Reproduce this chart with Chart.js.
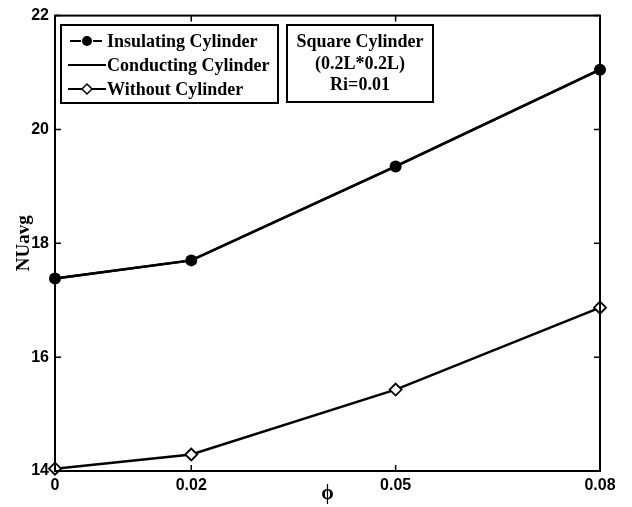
<!DOCTYPE html>
<html>
<head>
<meta charset="utf-8">
<script src="https://cdn.jsdelivr.net/npm/chart.js@4/dist/chart.umd.min.js"></script>
<style>
    html, body { margin: 0; padding: 0; background: #fff; }
    #wrap { width: 632px; height: 507px; position: relative; }
</style>
</head>
<body>
<div id="wrap"><canvas id="nuChart"></canvas></div>
<script>
// volume fraction and average Nusselt number
const phiValues = [0, 0.02, 0.05, 0.08];
const insulatingNu = [17.38, 17.70, 19.35, 21.05];
const conductingNu = [17.38, 17.70, 19.35, 21.05];
const withoutNu = [14.04, 14.29, 15.43, 16.87];
const xTicks = [0, 0.02, 0.05, 0.08];
const yTicks = [14, 16, 18, 20, 22];
const noteLines = ['Square Cylinder', '(0.2L*0.2L)', 'Ri=0.01'];

const serif = '"Liberation Serif", "DejaVu Serif", serif';
const sans = '"Liberation Sans", Arial, sans-serif';

function toPoints(values) {
    return phiValues.map(function(p, i) { return { x: p, y: values[i] }; });
}

// frame, inward ticks, legend box and note box
const framePlugin = {
    id: 'frame',
    afterDraw: function(chart) {
        const ctx = chart.ctx;
        const area = chart.chartArea;
        const xs = chart.scales.x;
        const ys = chart.scales.y;
        ctx.save();
        ctx.strokeStyle = '#000';
        ctx.lineWidth = 2;
        ctx.strokeRect(area.left, area.top, area.right - area.left, area.bottom - area.top);

        ctx.lineWidth = 1.5;
        ctx.beginPath();
        xTicks.forEach(function(t) {
            const px = xs.getPixelForValue(t);
            ctx.moveTo(px, area.bottom); ctx.lineTo(px, area.bottom - 6);
            ctx.moveTo(px, area.top); ctx.lineTo(px, area.top + 6);
        });
        yTicks.forEach(function(t) {
            const py = ys.getPixelForValue(t);
            ctx.moveTo(area.left, py); ctx.lineTo(area.left + 6, py);
            ctx.moveTo(area.right, py); ctx.lineTo(area.right - 6, py);
        });
        ctx.stroke();

        // legend
        const lx = 61, ly = 25, lw = 217, lh = 78;
        ctx.fillStyle = '#fff';
        ctx.fillRect(lx, ly, lw, lh);
        ctx.lineWidth = 2;
        ctx.strokeRect(lx, ly, lw, lh);
        const rows = [41, 65, 89];
        const ds = chart.data.datasets;
        ctx.font = 'bold 18px ' + serif;
        ctx.textBaseline = 'middle';
        ctx.textAlign = 'left';
        rows.forEach(function(ry, i) {
            ctx.strokeStyle = '#000';
            ctx.lineWidth = 2;
            ctx.beginPath();
            if (i === 0) {
                ctx.moveTo(70, ry); ctx.lineTo(81, ry);
                ctx.moveTo(93, ry); ctx.lineTo(102, ry);
            } else {
                ctx.moveTo(68, ry); ctx.lineTo(106, ry);
            }
            ctx.stroke();
            if (i === 0) {
                ctx.fillStyle = '#000';
                ctx.beginPath();
                ctx.arc(87, ry, 5, 0, Math.PI * 2);
                ctx.fill();
            } else if (i === 2) {
                ctx.fillStyle = '#fff';
                ctx.lineWidth = 1.5;
                ctx.beginPath();
                ctx.moveTo(87, ry - 5); ctx.lineTo(92, ry); ctx.lineTo(87, ry + 5); ctx.lineTo(82, ry);
                ctx.closePath();
                ctx.fill();
                ctx.stroke();
            }
            ctx.fillStyle = '#000';
            ctx.fillText(ds[i].label, 107, ry + 1);
        });

        // note box
        const nx = 287, ny = 25, nw = 146, nh = 77;
        ctx.fillStyle = '#fff';
        ctx.fillRect(nx, ny, nw, nh);
        ctx.strokeStyle = '#000';
        ctx.lineWidth = 2;
        ctx.strokeRect(nx, ny, nw, nh);
        ctx.fillStyle = '#000';
        ctx.textAlign = 'center';
        ctx.font = 'bold 18px ' + serif;
        [41, 63, 84].forEach(function(ty, i) {
            ctx.fillText(noteLines[i], nx + nw / 2, ty + 1);
        });
        ctx.restore();
    }
};

const ctx = document.getElementById('nuChart').getContext('2d');
new Chart(ctx, {
    type: 'line',
    data: {
        datasets: [{
            label: 'Insulating Cylinder',
            data: toPoints(insulatingNu),
            borderColor: '#000',
            backgroundColor: '#000',
            borderWidth: 2.5,
            pointStyle: 'circle',
            pointRadius: 6,
            pointBorderWidth: 0,
            clip: false
        }, {
            label: 'Conducting Cylinder',
            data: toPoints(conductingNu),
            borderColor: '#000',
            borderWidth: 2.5,
            pointRadius: 0,
            clip: false
        }, {
            label: 'Without Cylinder',
            data: toPoints(withoutNu),
            borderColor: '#000',
            backgroundColor: '#fff',
            borderWidth: 2.5,
            pointStyle: 'rectRot',
            pointRadius: 6,
            pointBorderWidth: 1.8,
            clip: false
        }]
    },
    options: {
        responsive: true,
        maintainAspectRatio: false,
        animation: false,
        layout: { padding: { left: 13, right: 32, top: 13, bottom: 1 } },
        plugins: {
            legend: { display: false },
            tooltip: { enabled: false }
        },
        scales: {
            x: {
                type: 'linear',
                min: 0,
                max: 0.08,
                afterBuildTicks: function(scale) {
                    scale.ticks = xTicks.map(function(v) { return { value: v }; });
                },
                afterFit: function(scale) { scale.height = 35; },
                grid: { display: false, drawTicks: false, tickLength: 0 },
                border: { display: false },
                ticks: {
                    color: '#000',
                    padding: 5,
                    maxRotation: 0,
                    font: { family: sans, size: 16, weight: 'bold' },
                    callback: function(v) { return String(v); }
                },
                title: {
                    display: true,
                    text: 'ϕ',
                    color: '#000',
                    padding: 0,
                    font: { family: serif, size: 20, weight: 'bold' }
                }
            },
            y: {
                min: 14,
                max: 22,
                afterBuildTicks: function(scale) {
                    scale.ticks = yTicks.map(function(v) { return { value: v }; });
                },
                afterFit: function(scale) { scale.width = 42; },
                grid: { display: false, drawTicks: false, tickLength: 0 },
                border: { display: false },
                ticks: {
                    color: '#000',
                    padding: 6,
                    font: { family: sans, size: 16, weight: 'bold' }
                },
                title: {
                    display: true,
                    text: 'NUavg',
                    color: '#000',
                    padding: 0,
                    font: { family: serif, size: 19, weight: 'bold' }
                }
            }
        }
    },
    plugins: [framePlugin]
});
</script>
</body>
</html>
